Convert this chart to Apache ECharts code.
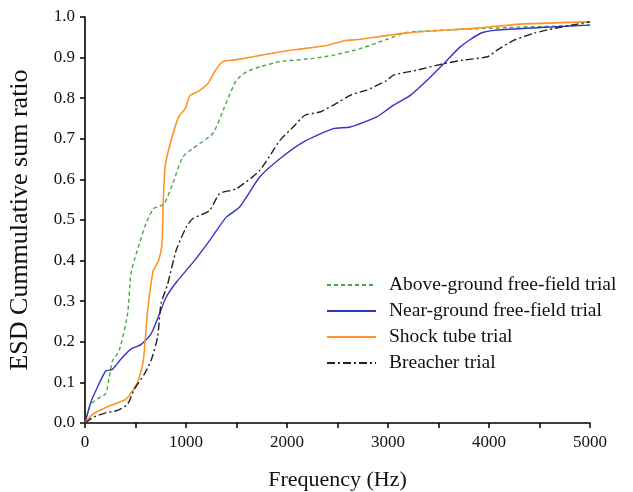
<!DOCTYPE html>
<html><head><meta charset="utf-8">
<script src="https://cdn.jsdelivr.net/npm/echarts@6/dist/echarts.min.js"></script>
<style>html,body{margin:0;padding:0;background:#fff}#c{width:633px;height:492px}</style>
</head><body><div id="c"></div>
<script>
const xTicks = [0, 1000, 2000, 3000, 4000, 5000];
const seriesNames = ['Above-ground free-field trial', 'Near-ground free-field trial', 'Shock tube trial', 'Breacher trial'];

const aboveX = [0,56,139,205,239,272,338,421,454,487,537,603,676,719,785,868,967,1066,1265,1382,1498,1598,1730,1929,2260,2459,2724,2989,3188,3586,4182,5000];
const aboveY = [0,0.046,0.062,0.072,0.112,0.153,0.178,0.268,0.367,0.4,0.441,0.491,0.528,0.532,0.54,0.589,0.655,0.676,0.713,0.779,0.844,0.865,0.877,0.89,0.898,0.906,0.922,0.945,0.962,0.968,0.974,0.98];

const nearX = [0,56,106,205,272,354,454,553,653,736,802,902,1084,1233,1399,1531,1730,1929,2161,2459,2624,2889,3055,3221,3387,3552,3718,3917,4083,4513,5000];
const nearY = [0,0.05,0.079,0.128,0.132,0.157,0.182,0.193,0.219,0.268,0.309,0.346,0.4,0.449,0.507,0.532,0.606,0.651,0.692,0.725,0.729,0.754,0.783,0.807,0.844,0.885,0.927,0.96,0.968,0.974,0.98];

const shockX = [0,73,239,404,470,520,577,620,676,729,762,775,795,852,928,994,1041,1117,1216,1292,1365,1498,1663,1929,2095,2393,2558,2724,3188,3850,4347,5000];
const shockY = [0,0.021,0.042,0.058,0.079,0.1,0.153,0.277,0.375,0.4,0.441,0.548,0.635,0.696,0.754,0.775,0.807,0.816,0.836,0.869,0.89,0.895,0.902,0.914,0.92,0.93,0.941,0.945,0.961,0.972,0.983,0.988];

const breachX = [0,89,205,321,421,487,586,653,719,752,818,902,1001,1066,1233,1332,1498,1730,1929,2061,2177,2326,2459,2641,2790,2989,3055,3287,3552,3751,3983,4083,4248,4447,4646,5000];
const breachY = [0,0.015,0.025,0.031,0.046,0.083,0.12,0.153,0.211,0.293,0.342,0.425,0.482,0.503,0.523,0.565,0.577,0.622,0.696,0.729,0.758,0.766,0.783,0.809,0.82,0.844,0.857,0.869,0.885,0.894,0.902,0.919,0.943,0.96,0.972,0.988];

function pairs(xs, ys){ return xs.map((x,i)=>[x, ys[i]]); }

const FONT = 'Liberation Serif';
const chart = echarts.init(document.getElementById('c'), null, {renderer:'canvas'});
const axisLine = {show:true, lineStyle:{color:'#000', width:1.6}};
chart.setOption({
  animation:false,
  backgroundColor:'#fff',
  grid:{left:85, right:43, top:17, bottom:69, containLabel:false, outerBoundsMode:'none'},
  legend:{
    orient:'vertical', left:321, top:270, itemWidth:49, itemHeight:14, itemGap:6,
    itemStyle:{opacity:0},
    textStyle:{fontFamily:FONT, fontSize:19.5, lineHeight:20, color:'#111', padding:[0,0,0,8]},
    data:seriesNames
  },
  xAxis:{
    type:'value', min:0, max:5000, interval:1000,
    name:'Frequency (Hz)', nameLocation:'middle', nameGap:46,
    nameTextStyle:{fontFamily:FONT, fontSize:22, color:'#111'},
    axisLine:axisLine,
    axisTick:{show:true, length:5, inside:false, lineStyle:{color:'#000', width:1.5}},
    minorTick:{show:true, splitNumber:2, length:5, lineStyle:{color:'#000', width:1.5}},
    splitLine:{show:false},
    axisLabel:{fontFamily:FONT, fontSize:17, color:'#111', margin:11, formatter:v=>String(v)}
  },
  yAxis:{
    type:'value', min:0, max:1, interval:0.1,
    name:'ESD Cummulative sum ratio', nameLocation:'middle', nameGap:52, nameRotate:90,
    nameTextStyle:{fontFamily:FONT, fontSize:26, color:'#111'},
    axisLine:axisLine,
    axisTick:{show:true, length:5, inside:false, lineStyle:{color:'#000', width:1.5}},
    splitLine:{show:false},
    axisLabel:{fontFamily:FONT, fontSize:17, color:'#111', margin:10, formatter:v=>v.toFixed(1)}
  },
  series:[
    {name:seriesNames[0], type:'line', symbol:'none', smooth:0.2, data:pairs(aboveX, aboveY),
     lineStyle:{color:'#44aa44', width:1.4, type:[4,3]}, itemStyle:{color:'#44aa44'}},
    {name:seriesNames[1], type:'line', symbol:'none', smooth:0.2, data:pairs(nearX, nearY),
     lineStyle:{color:'#3636c4', width:1.4}, itemStyle:{color:'#3636c4'}},
    {name:seriesNames[2], type:'line', symbol:'none', smooth:0.2, data:pairs(shockX, shockY),
     lineStyle:{color:'#ff9326', width:1.6}, itemStyle:{color:'#ff9326'}},
    {name:seriesNames[3], type:'line', symbol:'none', smooth:0.2, data:pairs(breachX, breachY),
     lineStyle:{color:'#222', width:1.4, type:[8,3,2,3]}, itemStyle:{color:'#222'}}
  ]
});
</script></body></html>
